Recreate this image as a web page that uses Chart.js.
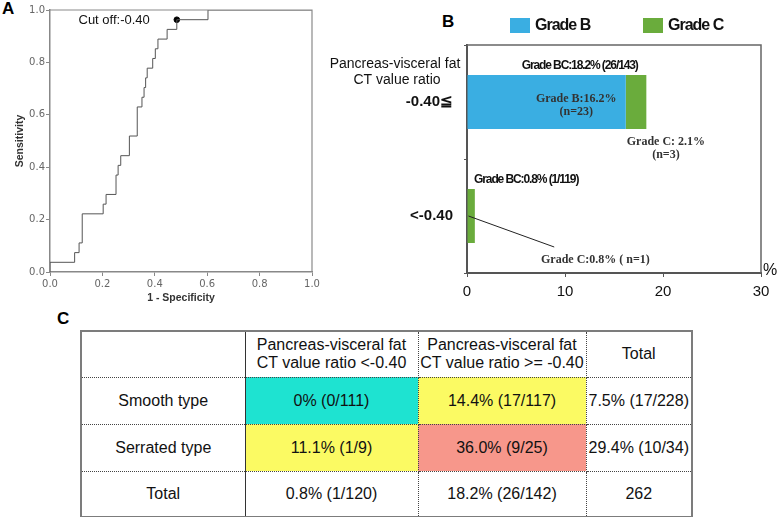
<!DOCTYPE html>
<html>
<head>
<meta charset="utf-8">
<script src="https://cdn.jsdelivr.net/npm/chart.js@4.4.0/dist/chart.umd.min.js"></script>
<style>
body{margin:0;background:#fff;width:778px;height:517px;overflow:hidden;position:relative;font-family:"Liberation Sans",Arial,sans-serif}
canvas{position:absolute}
.tag{position:absolute;font-weight:bold;font-size:17px;line-height:17px;color:#000}
#tbl{position:absolute;left:80px;top:330px;width:611px;border-collapse:collapse;table-layout:fixed;border:2px solid #7c7c7c;font-size:16px;color:#111}
#tbl td{border:1px dotted #444;text-align:center;padding:0;line-height:18px}
#tbl td.first{border-right:1px solid #333}
</style>
</head>
<body>
<div class="tag" style="left:2px;top:0px">A</div>
<div class="tag" style="left:442px;top:13px">B</div>
<div class="tag" style="left:57px;top:310px">C</div>
<canvas id="rocChart" width="330" height="310" style="left:0;top:0"></canvas>
<canvas id="gradeChart" width="458" height="310" style="left:320px;top:0"></canvas>
<table id="tbl"></table>
<script>
// panel A: ROC curve (1 - specificity vs sensitivity)
var rocFpr  = [0, 0, 0.094, 0.111, 0.123, 0.203, 0.214, 0.252, 0.260, 0.270, 0.303, 0.333, 0.351, 0.359, 0.365, 0.371, 0.392, 0.402, 0.412, 0.447, 0.484, 0.603, 1.0];
var rocSens = [0, 0.037, 0.074, 0.111, 0.222, 0.259, 0.296, 0.370, 0.407, 0.444, 0.519, 0.630, 0.667, 0.704, 0.741, 0.778, 0.815, 0.852, 0.889, 0.926, 0.963, 1.0, 1.0];
var cutoffFpr = 0.484;
var cutoffSens = 0.963;
var cutoffText = "Cut off:-0.40";

// panel B: grade by ratio group
var ratioGroups = ["-0.40\u2266", "<-0.40"];
var gradeBPct = [16.2, 0];
var gradeCPct = [2.1, 0.8];
var gradeTicks = [0, 10, 20, 30];
var totalNotes = ["Grade BC:18.2% (26/143)", "Grade BC:0.8% (1/119)"];

// panel C: table
var colHeads = [["Pancreas-visceral fat", "CT value ratio <-0.40"], ["Pancreas-visceral fat", "CT value ratio >= -0.40"], ["Total"]];
var rowNames = ["Smooth type", "Serrated type", "Total"];
var smoothRow = ["0% (0/111)", "14.4% (17/117)", "7.5% (17/228)"];
var serratedRow = ["11.1% (1/9)", "36.0% (9/25)", "29.4% (10/34)"];
var totalRow = ["0.8% (1/120)", "18.2% (26/142)", "262"];

var rocPoints = rocFpr.map((f, i) => ({x: f, y: rocSens[i]}));

var rocExtras = {
    id: "rocExtras",
    afterDraw(chart) {
        var ctx = chart.ctx, a = chart.chartArea;
        var xs = chart.scales.x, ys = chart.scales.y;
        ctx.save();
        ctx.strokeStyle = "#8a8a8a";
        ctx.lineWidth = 1.2;
        ctx.beginPath();
        ctx.moveTo(a.left, a.top); ctx.lineTo(a.right, a.top); ctx.lineTo(a.right, a.bottom);
        ctx.stroke();
        ctx.fillStyle = "#111";
        ctx.font = "13px 'Liberation Sans'";
        ctx.textAlign = "right";
        ctx.textBaseline = "middle";
        ctx.fillText(cutoffText, xs.getPixelForValue(cutoffFpr) - 27, ys.getPixelForValue(cutoffSens) + 0.5);
        ctx.font = "bold 10.5px 'Liberation Sans'";
        ctx.fillStyle = "#333";
        ctx.textAlign = "center";
        ctx.fillText("1 - Specificity", (a.left + a.right) / 2, 298);
        ctx.translate(20, (a.top + a.bottom) / 2);
        ctx.rotate(-Math.PI / 2);
        ctx.fillText("Sensitivity", 0, 0);
        ctx.restore();
    }
};

new Chart(document.getElementById("rocChart"), {
    type: "line",
    data: {
        datasets: [
            {data: rocPoints, stepped: "before", borderColor: "#555", borderWidth: 1, pointRadius: 0, fill: false},
            {data: [{x: cutoffFpr, y: cutoffSens}], showLine: false, pointRadius: 2.8, pointBackgroundColor: "#000", pointBorderColor: "#000"}
        ]
    },
    options: {
        responsive: false,
        animation: false,
        layout: {padding: {top: 10, right: 18, left: 0, bottom: 0}},
        plugins: {legend: {display: false}, tooltip: {enabled: false}},
        scales: {
            x: {
                type: "linear", min: 0, max: 1,
                ticks: {stepSize: 0.2, callback: v => v.toFixed(1), font: {size: 10, family: "'DejaVu Sans'"}, color: "#666", padding: 2, maxRotation: 0},
                grid: {drawOnChartArea: false, tickLength: 4, color: "#888"},
                border: {color: "#888", width: 1.5},
                afterFit: s => { s.height = 38; }
            },
            y: {
                type: "linear", min: 0, max: 1,
                ticks: {stepSize: 0.2, callback: v => v.toFixed(1), font: {size: 10, family: "'DejaVu Sans'"}, color: "#666", padding: 1},
                grid: {drawOnChartArea: false, tickLength: 4, color: "#888"},
                border: {color: "#888", width: 1.5},
                afterFit: s => { s.width = 50; }
            }
        }
    },
    plugins: [rocExtras]
});

var gradeExtras = {
    id: "gradeExtras",
    afterDraw(chart) {
        var ctx = chart.ctx, a = chart.chartArea;
        var xs = chart.scales.x, ys = chart.scales.y;
        var px = v => xs.getPixelForValue(v);
        var yTop = ys.getPixelForValue(0), yBot = ys.getPixelForValue(1);
        ctx.save();
        // box
        ctx.strokeStyle = "#666";
        ctx.lineWidth = 1.5;
        ctx.beginPath();
        ctx.moveTo(a.left, a.top); ctx.lineTo(a.right, a.top); ctx.lineTo(a.right, a.bottom);
        ctx.stroke();
        // legend
        var legX = [190, 323];
        chart.data.datasets.forEach((ds, i) => {
            ctx.fillStyle = ds.backgroundColor;
            ctx.fillRect(legX[i], 18, 20, 15);
            ctx.fillStyle = "#111";
            ctx.font = "bold 16px 'Liberation Sans'";
            ctx.letterSpacing = "-1px";
            ctx.textAlign = "left";
            ctx.textBaseline = "middle";
            ctx.fillText(ds.label, legX[i] + 25, 26);
        });
        // group title
        ctx.letterSpacing = "0px";
        ctx.font = "14px 'Liberation Sans'";
        ctx.textAlign = "center";
        ctx.fillStyle = "#111";
        ctx.fillText("Pancreas-visceral fat", 75, 64);
        ctx.fillText("CT value ratio", 77, 80);
        ctx.font = "16px 'Liberation Sans'";
        ctx.fillText("%", 450, 271);
        // totals
        ctx.font = "bold 12px 'Liberation Sans'";
        ctx.letterSpacing = "-1.1px";
        ctx.fillText(totalNotes[0], px(11.5), yTop - 36);
        ctx.textAlign = "left";
        ctx.fillText(totalNotes[1], px(0) + 7, yBot - 36);
        // segment notes
        ctx.letterSpacing = "0px";
        ctx.textAlign = "center";
        ctx.font = "bold 12px 'Liberation Serif'";
        ctx.fillStyle = "#333";
        ctx.fillText("Grade B:" + gradeBPct[0] + "%", px(11.15), yTop - 3);
        ctx.fillText("(n=23)", px(11.15), yTop + 10);
        ctx.fillText("Grade C: " + gradeCPct[0] + "%", px(20.3), yTop + 40);
        ctx.fillText("(n=3)", px(20.3), yTop + 53);
        ctx.fillText("Grade C:" + gradeCPct[1] + "% ( n=1)", px(13.1), yBot + 44);
        ctx.strokeStyle = "#222";
        ctx.lineWidth = 1;
        ctx.beginPath();
        ctx.moveTo(px(0.15), yBot);
        ctx.lineTo(px(8.9), yBot + 31);
        ctx.stroke();
        ctx.restore();
    }
};

new Chart(document.getElementById("gradeChart"), {
    type: "bar",
    data: {
        labels: ratioGroups,
        datasets: [
            {label: "Grade B", data: gradeBPct, backgroundColor: "#3aaee2"},
            {label: "Grade C", data: gradeCPct, backgroundColor: "#6aac3c"}
        ]
    },
    options: {
        indexAxis: "y",
        responsive: false,
        animation: false,
        layout: {padding: {top: 45, right: 17, left: 0, bottom: 0}},
        plugins: {legend: {display: false}, tooltip: {enabled: false}},
        datasets: {bar: {barPercentage: 1, categoryPercentage: 0.474}},
        scales: {
            x: {
                stacked: true, min: 0, max: 30,
                afterBuildTicks: s => { s.ticks = gradeTicks.map(v => ({value: v})); },
                ticks: {font: {size: 15}, color: "#111", padding: 6},
                grid: {drawOnChartArea: false, tickLength: 4, color: "#555"},
                border: {color: "#555", width: 2},
                afterFit: s => { s.height = 37; }
            },
            y: {
                stacked: true,
                ticks: {font: {size: 15, weight: "bold"}, color: "#111", padding: 11},
                grid: {drawOnChartArea: false, tickLength: 3, color: "#555", offset: true},
                border: {color: "#555", width: 2},
                afterFit: s => { s.width = 147; }
            }
        }
    },
    plugins: [gradeExtras]
});

// panel C table
function toneFor(text) {
    var p = parseFloat(text);
    if (p < 1) return "#1ee3d1";
    if (p > 30) return "#f7978b";
    return "#fbfa63";
}
var rowHeights = [46, 47, 47, 46];
var colWidths = [164, 173, 168, 106];
var tbl = document.getElementById("tbl");
var cg = document.createElement("colgroup");
colWidths.forEach(w => { var c = document.createElement("col"); c.style.width = w + "px"; cg.append(c); });
tbl.append(cg);
var head = tbl.insertRow();
head.style.height = rowHeights[0] + "px";
var h0 = head.insertCell(); h0.className = "first";
colHeads.forEach(h => { var c = head.insertCell(); c.innerHTML = h.join("<br>"); });
[smoothRow, serratedRow, totalRow].forEach((vals, r) => {
    var tr = tbl.insertRow();
    tr.style.height = rowHeights[r + 1] + "px";
    var c0 = tr.insertCell(); c0.className = "first"; c0.textContent = rowNames[r];
    vals.forEach((v, j) => {
        var c = tr.insertCell();
        c.textContent = v.replace(" ", "\u00a0");
        if (r < 2 && j < 2) c.style.background = toneFor(v);
    });
});
</script>
</body>
</html>
